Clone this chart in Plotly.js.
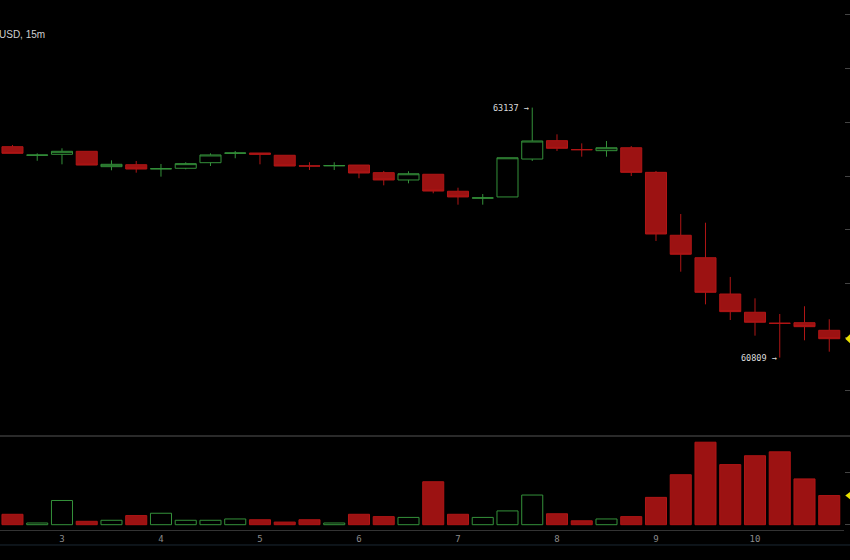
<!DOCTYPE html>
<html>
<head>
<meta charset="utf-8">
<script src="https://cdn.plot.ly/plotly-3.0.1.min.js"></script>
<style>html,body{margin:0;padding:0;background:#000;}#chart{width:850px;height:560px;}</style>
</head>
<body>
<div id="chart"></div>
<script>
// time (hours) of each 15m candle
const times = [2.5,2.75,3,3.25,3.5,3.75,4,4.25,4.5,4.75,5,5.25,5.5,5.75,6,6.25,6.5,6.75,7,7.25,7.5,7.75,8,8.25,8.5,8.75,9,9.25,9.5,9.75,10,10.25,10.5,10.75];
const opens  = [62773,62693,62702,62730,62587,62605,62566,62572,62624,62712,62714,62693,62594,62595,62602,62531,62463,62516,62358,62294,62305,62658,62829,62746,62736,62763,62534,61948,61739,61401,61231,61129,61134,61063];
const highs  = [62789,62711,62758,62730,62646,62640,62612,62628,62711,62733,62714,62693,62628,62628,62602,62547,62544,62516,62391,62332,62670,63137,62888,62804,62826,62779,62547,62146,62065,61560,61361,61215,61287,61166];
const lows   = [62711,62642,62609,62602,62553,62531,62494,62562,62593,62665,62609,62593,62556,62556,62479,62413,62432,62339,62233,62233,62305,62640,62733,62680,62680,62500,61895,61609,61305,61159,61013,60809,60970,60864];
const closes = [62711,62695,62730,62602,62609,62565,62568,62615,62696,62714,62702,62593,62593,62597,62528,62463,62521,62360,62305,62296,62670,62826,62758,62745,62763,62534,61960,61771,61417,61237,61138,61128,61097,60985];
const volumes = [40,6.5,93,13,17,35,44,17,17,22,19,10,19,6.5,40,31,28,165,40,28,53,114,42,15,22,31,105,192,317,231,265,280,176,112];
const xTickVals = [3,4,5,6,7,8,9,10];
const xTickText = ['3','4','5','6','7','8','9','10'];
const titleText = 'USD, 15m';

const RED_FILL = '#9c1212', RED_LINE = '#b01616', GREEN = '#34913a';
const up = closes.map((c,i)=> c >= opens[i]);

const candle = {
  type:'candlestick', x:times, open:opens, high:highs, low:lows, close:closes,
  xaxis:'x', yaxis:'y2',
  increasing:{line:{color:GREEN,width:1}, fillcolor:'#000'},
  decreasing:{line:{color:RED_LINE,width:1}, fillcolor:RED_FILL},
  whiskerwidth:0, hoverinfo:'skip', showlegend:false
};
const vol = {
  type:'bar', x:times, y:volumes, xaxis:'x', yaxis:'y',
  marker:{color: up.map(u=> u ? '#000' : RED_FILL),
          line:{color: up.map(u=> u ? GREEN : RED_LINE), width:1}},
  hoverinfo:'skip', showlegend:false
};

const hi = Math.max(...highs), lo = Math.min(...lows);
const iHi = highs.indexOf(hi), iLo = lows.indexOf(lo);
const lastClose = closes[closes.length-1], lastVol = volumes[volumes.length-1];

const mono = 'DejaVu Sans Mono';
const layout = {
  width:850, height:560,
  margin:{l:0,r:6,t:0,b:30},
  paper_bgcolor:'#000', plot_bgcolor:'#000',
  boxgap:0.15, boxgroupgap:0, bargap:0.15,
  xaxis:{range:[2.374,10.899], tickvals:xTickVals, ticktext:xTickText,
         showgrid:false, zeroline:false, showline:true, linecolor:'#333', linewidth:1,
         ticks:'', ticklen:0,
         tickfont:{family:mono,size:9,color:'#8a8a8a'}, rangeslider:{visible:false}, fixedrange:true},
  yaxis:{domain:[0,0.1774], range:[-20.4,341], dtick:200, side:'right',
         showgrid:false, zeroline:false, showticklabels:false,
         ticks:'outside', ticklen:5, tickcolor:'#444', fixedrange:true},
  yaxis2:{domain:[0.1774,1], range:[60079,64139], dtick:500, side:'right',
         showgrid:false, zeroline:false, showticklabels:false,
         ticks:'outside', ticklen:5, tickcolor:'#444', fixedrange:true},
  shapes:[
    {type:'line', xref:'paper', yref:'paper', x0:0, x1:1.01, y0:0.1774, y1:0.1774, line:{color:'#2a2a2a',width:2}},
    {type:'line', xref:'paper', yref:'paper', x0:0, x1:1.01, y0:-0.0283, y1:-0.0283, line:{color:'#1b2833',width:1}},
    {type:'path', xref:'paper', yref:'y2',
     path:`M 1.0015 ${lastClose} L 1.0075 ${lastClose+45} L 1.0075 ${lastClose-45} Z`,
     fillcolor:'#e8e000', line:{width:0}},
    {type:'path', xref:'paper', yref:'y',
     path:`M 1.0015 ${lastVol} L 1.0075 ${lastVol+15} L 1.0075 ${lastVol-15} Z`,
     fillcolor:'#e8e000', line:{width:0}}
  ],
  annotations:[
    {text:titleText, xref:'paper', yref:'paper', x:0, y:0.9358, xanchor:'left', yanchor:'middle', xshift:-3,
     showarrow:false, font:{family:'Liberation Sans', size:10, color:'#cfcfcf'}},
    {text:hi+' →', xref:'x', yref:'y2', x:times[iHi], y:hi, xanchor:'right', yanchor:'middle', xshift:-1,
     showarrow:false, font:{family:mono, size:8.5, color:'#dcdcdc'}},
    {text:lo+' →', xref:'x', yref:'y2', x:times[iLo], y:lo, xanchor:'right', yanchor:'middle', xshift:-1,
     showarrow:false, font:{family:mono, size:8.5, color:'#dcdcdc'}}
  ]
};
Plotly.newPlot('chart',[vol,candle],layout,{displayModeBar:false,staticPlot:true});
</script>
</body>
</html>
